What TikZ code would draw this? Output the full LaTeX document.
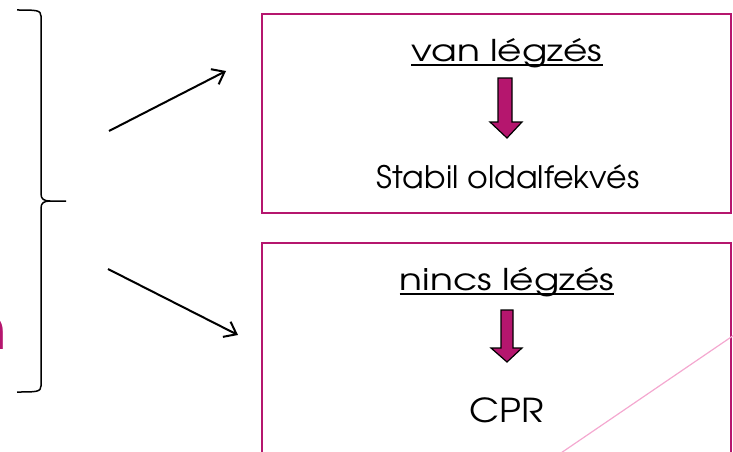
\documentclass[tikz,border=0pt]{standalone}
\usepackage{fontspec}
\setmainfont{texgyreadventor-regular.otf}
\usetikzlibrary{arrows.meta}
\definecolor{berry}{HTML}{B5166E}
\definecolor{blush}{HTML}{F4A8D0}
\tikzset{
  box/.style={draw=berry, line width=1.5pt},
  pointer/.style={line width=2pt, -{Straight Barb[length=11pt, width=17pt, line width=2pt]}},
  label/.style={inner sep=0pt, anchor=base, text=black},
  heading/.style={label, font=\fontsize{30}{34}\selectfont\addfontfeature{FakeStretch=1.25}},
  rule/.style={line width=1.4pt},
  downarrow/.style={fill=berry, draw=black, line width=1.2pt, line join=miter}
}
\begin{document}
\begin{tikzpicture}[x=1pt, y=-1pt]
\useasboundingbox (0,0) rectangle (733,452);
\begin{scope}
\clip (0,0) rectangle (733,452);
% partly visible letter at the left edge
\node[inner sep=0pt, anchor=base east, text=berry, font=\fontsize{60}{64}\selectfont] (cut) at (7.5,349) {n};

% curly brace
\draw[line width=1.5pt] (17,10) .. controls (36,10) and (41,10) .. (41,16)
  -- (41,194) .. controls (41,199) and (44,201) .. (50,201) -- (66,201)
  (50,201) .. controls (44,201) and (41,203) .. (41,208)
  -- (41,386) .. controls (41,392) and (36,392) .. (17,392);

% boxes
\draw[box] (262,14) rectangle (731,213);
\draw[box] (262,243) rectangle (731,470);
\draw[blush, line width=1.2pt] (558,455) -- (740,331);

% upper box content
\node[heading] (van) at (507,61) {van légzés};
\draw[rule] ([yshift=-4pt]van.base west) -- ([yshift=-4pt]van.base east);
\draw[downarrow] (498,78) -- (512,78) -- (512,122) -- (522,122) -- (507,138) -- (490,122) -- (498,122) -- cycle;
\node[label, font=\fontsize{31}{34}\selectfont\addfontfeature{FakeStretch=1.02}] (stabil) at (508,188) {Stabil oldalfekvés};

% lower box content
\node[heading] (nincs) at (507,290) {nincs légzés};
\draw[rule] ([yshift=-4pt]nincs.base west) -- ([yshift=-4pt]nincs.base east);
\draw[downarrow] (501,310) -- (513,310) -- (513,348) -- (522,348) -- (507,362) -- (491,348) -- (501,348) -- cycle;
\node[label, font=\fontsize{33}{36}\selectfont\addfontfeature{FakeStretch=1.12}] (cpr) at (507,422) {CPR};

% pointers from the brace
\coordinate (up0) at (109,131);
\coordinate (up1) at (226,71);
\coordinate (dn0) at (108,269);
\coordinate (dn1) at (238,335);
\draw[pointer] (up0) -- (up1);
\draw[pointer] (dn0) -- (dn1);
\end{scope}
\end{tikzpicture}
\end{document}
